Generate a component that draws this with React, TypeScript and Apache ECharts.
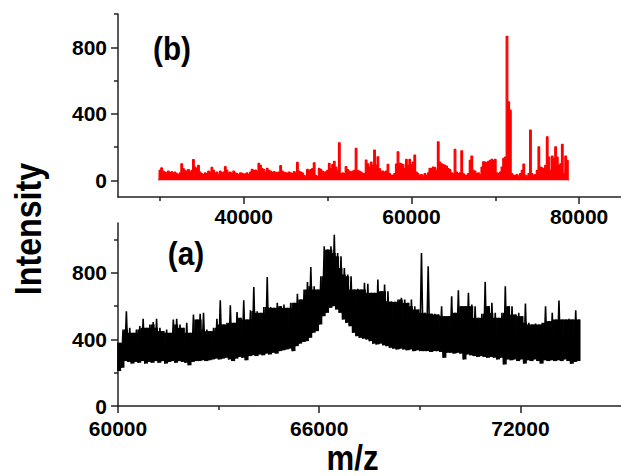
import React, { useEffect, useRef } from "react";
import * as echarts from "echarts";

// ---- (b) red spectrum: intensity sampled every 200 m/z from 29800 ----
const redStartMz = 29800;
const redStepMz = 200;
const redIntensity = [
  5, 60, 75, 55, 50, 45, 55, 48, 52, 45,
  50, 40, 35, 45, 100, 70, 60, 55, 65, 50,
  60, 125, 80, 70, 90, 50, 40, 35, 45, 40,
  55, 50, 78, 60, 45, 50, 35, 55, 45, 50,
  82, 60, 45, 50, 40, 55, 45, 40, 35, 45,
  42, 38, 40, 45, 35, 50, 66, 60, 62, 55,
  102, 90, 70, 65, 50, 72, 60, 55, 50, 52,
  48, 45, 50, 88, 55, 48, 45, 42, 50, 45,
  40, 52, 48, 108, 55, 50, 45, 30, 25, 66,
  60, 65, 70, 106, 30, 22, 72, 65, 55, 50,
  52, 60, 102, 70, 95, 114, 80, 60, 226, 42,
  45, 40, 82, 65, 56, 50, 55, 60, 192, 58,
  55, 50, 42, 40, 122, 100, 80, 110, 90, 182,
  92, 142, 70, 55, 55, 50, 55, 96, 40, 32,
  30, 40, 98, 172, 102, 100, 95, 70, 126, 90,
  126, 95, 110, 152, 50, 40, 30, 35, 25, 40,
  28, 45, 72, 70, 80, 76, 60, 232, 110, 100,
  95, 90, 85, 70, 65, 45, 40, 186, 50, 40,
  45, 178, 40, 32, 30, 40, 120, 146, 60, 55,
  40, 45, 35, 80, 112, 110, 105, 115, 120, 126,
  120, 126, 45, 40, 50, 80, 132, 140, 866, 472,
  422, 40, 30, 30, 35, 25, 40, 60, 98, 30,
  25, 40, 302, 40, 30, 35, 60, 202, 80, 75,
  70, 90, 262, 140, 60, 146, 130, 202, 140, 90,
  100, 216, 40, 146, 120, 5,
];

// ---- (a) black spectrum: upper / lower envelope every 100 m/z from 60000 ----
const blackStartMz = 60000;
const blackStepMz = 100;
const blackHigh = [
  380, 460, 570, 470, 440, 460, 480, 525, 470, 490,
  505, 525, 470, 450, 460, 440, 520, 525, 490, 470,
  500, 440, 550, 520, 555, 560, 460, 450, 470, 525,
  635, 490, 500, 605, 500, 565, 530, 635, 520, 575,
  715, 570, 560, 595, 775, 595, 590, 620, 600, 610,
  590, 620, 620, 675, 640, 700, 745, 835, 720, 700,
  780, 960, 940, 960, 1030, 920, 900, 830, 790, 780,
  700, 705, 700, 740, 735, 680, 680, 760, 690, 730,
  690, 630, 626, 640, 650, 640, 620, 640, 600, 580,
  920, 560, 840, 555, 555, 550, 600, 540, 540, 660,
  560, 696, 600, 600, 680, 610, 600, 530, 555, 746,
  600, 620, 560, 530, 560, 720, 600, 600, 550, 560,
  540, 616, 500, 490, 495, 490, 500, 600, 510, 560,
  520, 634, 520, 520, 525, 520, 575, 520,
];
const blackLow = [
  210, 230, 270, 265, 255, 265, 260, 270, 255, 265,
  260, 270, 260, 270, 255, 265, 270, 260, 270, 265,
  260, 245, 265, 270, 270, 275, 270, 275, 280, 285,
  280, 285, 290, 280, 270, 285, 295, 290, 275, 300,
  305, 300, 310, 305, 315, 310, 320, 315, 330, 335,
  340, 345, 330, 360, 375, 385, 390, 410, 440, 450,
  490, 540, 560, 590, 600, 580, 560, 520, 500, 480,
  440, 420, 410, 405, 400, 390, 375, 370, 375, 365,
  360, 350, 345, 340, 345, 340, 335, 340, 330, 335,
  330, 330, 330, 325, 330, 330, 325, 290, 320, 320,
  315, 320, 315, 280, 310, 305, 300, 295, 300, 295,
  290, 295, 290, 280, 290, 250, 280, 275, 280, 270,
  280, 255, 275, 270, 280, 270, 255, 275, 270, 275,
  270, 275, 270, 280, 270, 254, 265, 270,
];

// ---- axis ticks / labels ----
const topXLabels = [40000, 60000, 80000];
const topXMinor = [30000, 50000, 70000];
const bottomXLabels = [60000, 66000, 72000];
const bottomXMinor = [63000, 69000];
const yLabels = [0, 400, 800];
const yMinor = [200, 600, 1000];

const FONT = "'Liberation Sans', Arial, Helvetica, sans-serif";
const axisColor = "#222";

export default function App() {
  const ref = useRef<HTMLDivElement>(null);

  useEffect(() => {
    if (!ref.current) return;
    const chart = echarts.init(ref.current, undefined, { renderer: "svg" });

    const redData = redIntensity.map((v, i) => [redStartMz + i * redStepMz, v]);

    // zig-zag trace between the read lower and upper envelopes
    const blackData: number[][] = [];
    blackHigh.forEach((hi, i) => {
      const x = blackStartMz + i * blackStepMz;
      blackData.push([x, blackLow[i]]);
      blackData.push([x + blackStepMz / 2, hi]);
    });
    // solid body of the noisy band (below the isolated spikes)
    const bandData: number[][] = blackHigh.map((hi, i) => {
      const x = blackStartMz + i * blackStepMz + blackStepMz / 4;
      const prev = i > 0 ? blackHigh[i - 1] : hi;
      const next = i < blackHigh.length - 1 ? blackHigh[i + 1] : hi;
      return [x, blackLow[i], Math.min(hi, prev, next)];
    });

    const lineStyle = { color: axisColor, width: 1.5 };
    const labelStyle = {
      fontSize: 21,
      lineHeight: 16,
      fontWeight: "bold" as const,
      fontFamily: FONT,
      color: "#000",
      formatter: (v: number) => String(v),
    };

    const mainX = (grid: number, min: number, max: number, labels: number[], margin: number) => ({
      type: "value" as const,
      gridIndex: grid,
      position: "bottom" as const,
      min,
      max,
      axisLine: { show: true, onZero: false, lineStyle },
      axisTick: { show: true, customValues: labels, length: 7, lineStyle },
      axisLabel: { show: true, customValues: labels, margin, ...labelStyle },
      splitLine: { show: false },
    });
    const minorX = (grid: number, min: number, max: number, ticks: number[]) => ({
      type: "value" as const,
      gridIndex: grid,
      position: "bottom" as const,
      min,
      max,
      axisLine: { show: false, onZero: false },
      axisTick: { show: true, customValues: ticks, length: 4, lineStyle },
      axisLabel: { show: false },
      splitLine: { show: false },
    });
    const mainY = (grid: number, min: number, max: number) => ({
      type: "value" as const,
      gridIndex: grid,
      position: "left" as const,
      min,
      max,
      axisLine: { show: true, onZero: false, lineStyle },
      axisTick: { show: true, customValues: yLabels, length: 7, lineStyle },
      axisLabel: {
        show: true,
        customValues: yLabels,
        margin: 11,
        padding: [0, 0, 5, 0],
        ...labelStyle,
      },
      splitLine: { show: false },
    });
    const minorY = (grid: number, min: number, max: number) => ({
      type: "value" as const,
      gridIndex: grid,
      position: "left" as const,
      min,
      max,
      axisLine: { show: false, onZero: false },
      axisTick: { show: true, customValues: yMinor, length: 4, lineStyle },
      axisLabel: { show: false },
      splitLine: { show: false },
    });

    const textStyle = (text: string, size: number) => ({
      text,
      font: `bold ${size}px ${FONT}`,
      textAlign: "center",
      textVerticalAlign: "middle",
      align: "center",
      verticalAlign: "middle",
      fill: "#000",
    });

    chart.setOption({
      animation: false,
      backgroundColor: "#fff",
      grid: [
        { left: 118, right: 0, top: 14, height: 183 },
        { left: 118, right: 0, top: 223, height: 183 },
      ],
      xAxis: [
        mainX(0, 25000, 85000, topXLabels, 11),
        minorX(0, 25000, 85000, topXMinor),
        mainX(1, 60000, 75000, bottomXLabels, 14),
        minorX(1, 60000, 75000, bottomXMinor),
      ],
      yAxis: [
        mainY(0, -100, 1000),
        minorY(0, -100, 1000),
        mainY(1, 0, 1100),
        minorY(1, 0, 1100),
      ],
      series: [
        {
          type: "line",
          xAxisIndex: 0,
          yAxisIndex: 0,
          data: redData,
          step: "middle",
          symbol: "none",
          lineStyle: { color: "#ff0000", width: 1.2 },
          areaStyle: { color: "#ff0000", opacity: 1, origin: 0 },
          silent: true,
        },
        {
          type: "custom",
          xAxisIndex: 2,
          yAxisIndex: 2,
          data: bandData,
          encode: { x: 0, y: [1, 2] },
          silent: true,
          renderItem: (_params: any, api: any) => {
            const x = api.value(0);
            const p1 = api.coord([x - blackStepMz / 2, api.value(2)]);
            const p2 = api.coord([x + blackStepMz / 2, api.value(1)]);
            return {
              type: "rect",
              shape: {
                x: p1[0],
                y: p1[1],
                width: p2[0] - p1[0] + 0.6,
                height: p2[1] - p1[1],
              },
              style: { fill: "#000" },
            };
          },
        },
        {
          type: "line",
          xAxisIndex: 2,
          yAxisIndex: 2,
          data: blackData,
          symbol: "none",
          lineStyle: { color: "#000", width: 1.6 },
          silent: true,
        },
      ],
      graphic: [
        { type: "text", x: 172, y: 48.7, scaleX: 0.9, style: textStyle("(b)", 33) },
        { type: "text", x: 186, y: 253.7, scaleX: 0.9, style: textStyle("(a)", 33) },
        {
          type: "text",
          x: 28.3,
          y: 229,
          rotation: Math.PI / 2,
          scaleX: 0.87,
          style: textStyle("Intensity", 37),
        },
        { type: "text", x: 352.5, y: 457.7, scaleX: 0.89, style: textStyle("m/z", 35) },
      ],
    });

    return () => chart.dispose();
  }, []);

  return (
    <div
      ref={ref}
      style={{
        position: "fixed",
        left: 0,
        top: 0,
        width: 621,
        height: 476,
        background: "#fff",
      }}
    />
  );
}
